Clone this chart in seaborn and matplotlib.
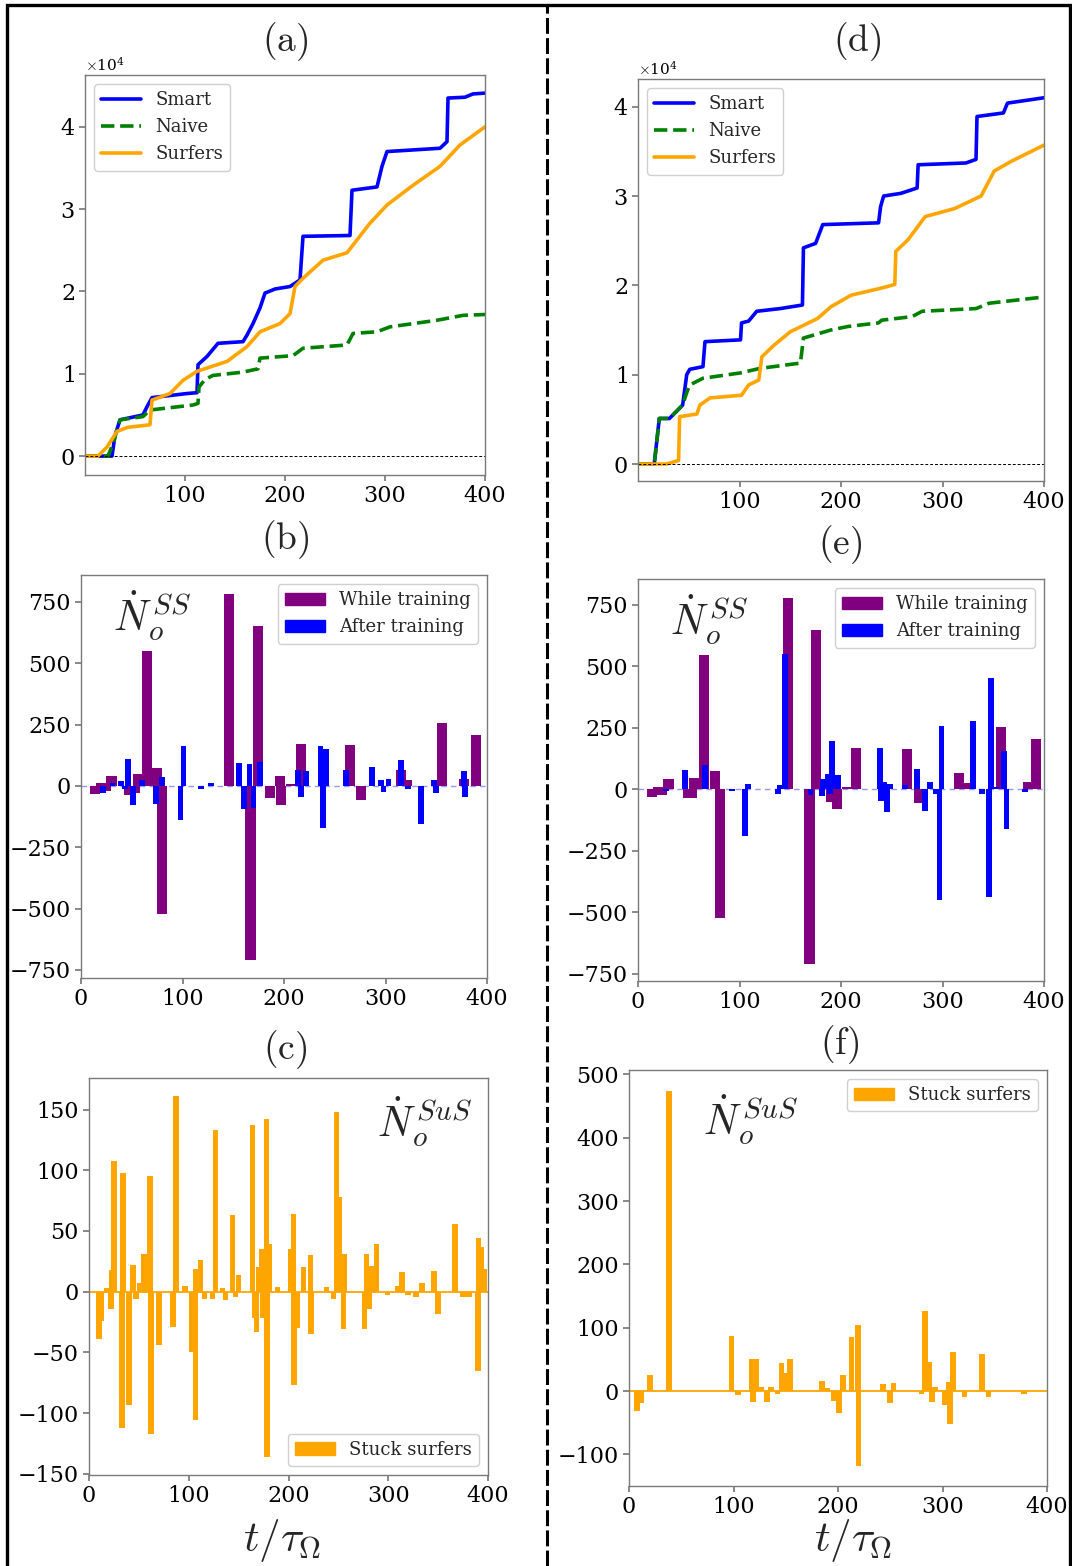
import numpy as np
import pandas as pd
import matplotlib
matplotlib.use("Agg")
import matplotlib.pyplot as plt
import seaborn as sns
from matplotlib.patches import Rectangle, Patch
from matplotlib.lines import Line2D

# ---------------- cumulative counts (units of 1e4) ----------------
# left column, panel (a)
a_smart_t = [0, 27, 30, 35, 58, 62, 67, 102, 112, 113, 122, 133, 158, 162, 168, 175, 180, 190,
             205, 215, 218, 265, 267, 292, 297, 302, 355, 362, 363, 380, 388, 400]
a_smart_v = [0, 0, 0.25, 0.44, 0.50, 0.60, 0.71, 0.76, 0.77, 1.11, 1.21, 1.37, 1.39, 1.47, 1.61,
             1.80, 1.98, 2.03, 2.06, 2.14, 2.67, 2.68, 3.23, 3.27, 3.52, 3.70, 3.74, 3.82, 4.35,
             4.36, 4.40, 4.41]
a_naive_t = [0, 23, 28, 35, 58, 65, 108, 113, 114, 120, 128, 158, 173, 175, 208, 218, 262, 268,
             292, 305, 352, 378, 400]
a_naive_v = [0, 0, 0.15, 0.44, 0.48, 0.56, 0.62, 0.64, 0.84, 0.93, 0.98, 1.02, 1.06, 1.19, 1.22,
             1.31, 1.35, 1.49, 1.51, 1.57, 1.65, 1.71, 1.72]
a_surf_t = [0, 13, 22, 32, 43, 65, 67, 85, 98, 112, 142, 162, 175, 195, 205, 210, 218, 238, 262,
            285, 302, 328, 355, 375, 400]
a_surf_v = [0, 0, 0.11, 0.30, 0.35, 0.38, 0.68, 0.76, 0.92, 1.03, 1.15, 1.33, 1.51, 1.61, 1.73,
            2.06, 2.16, 2.38, 2.47, 2.83, 3.05, 3.29, 3.52, 3.78, 4.00]

# right column, panel (d)
d_smart_t = [0, 16, 21, 31, 44, 48, 51, 64, 66, 101, 102, 109, 117, 140, 162, 163, 175, 182, 237,
             239, 242, 259, 275, 276, 323, 333, 334, 360, 364, 400]
d_smart_v = [0, 0, 0.51, 0.51, 0.66, 1.00, 1.06, 1.09, 1.37, 1.39, 1.58, 1.60, 1.71, 1.74, 1.78,
             2.42, 2.47, 2.68, 2.70, 2.88, 3.00, 3.03, 3.09, 3.35, 3.37, 3.41, 3.89, 3.93, 4.04,
             4.10]
d_naive_t = [0, 16, 21, 31, 44, 48, 51, 64, 101, 120, 160, 163, 190, 207, 237, 240, 270, 280,
             333, 346, 400]
d_naive_v = [0, 0, 0.51, 0.51, 0.66, 0.80, 0.885, 0.96, 1.02, 1.07, 1.13, 1.41, 1.50, 1.54, 1.58,
             1.61, 1.65, 1.71, 1.74, 1.80, 1.87]
d_surf_t = [0, 28, 40, 41, 58, 61, 71, 102, 109, 119, 122, 134, 150, 177, 190, 210, 240, 253,
            254, 266, 283, 312, 338, 351, 368, 400]
d_surf_v = [0, 0, 0.04, 0.53, 0.56, 0.66, 0.74, 0.77, 0.885, 0.94, 1.20, 1.33, 1.48, 1.63, 1.76,
            1.89, 1.97, 2.01, 2.38, 2.51, 2.77, 2.86, 3.00, 3.28, 3.39, 3.57]

# ---------------- smart-smart rates ----------------
b_while_t = [14, 20, 25, 30, 47, 53, 56, 65, 75, 80, 146, 167, 174, 186, 196, 197, 207, 217, 265,
             276, 315, 321, 356, 377, 389]
b_while_v = [-34, 12, -22, 41, -38, -30, 50, 549, 75, -523, 782, -711, 651, -50, 41, -78, 7, 170,
             166, -58, 67, 26, 257, 27, 207]
b_after_t = [22, 31, 39, 43, 46, 51, 60, 74, 80, 98, 101, 118, 128, 156, 161, 166, 170, 176, 214,
             217, 222, 236, 238, 241, 261, 287, 296, 298, 303, 315, 322, 335, 348, 350, 377, 378]
b_after_v = [-29, 14, 19, -11, 111, -79, 26, -72, 37, -137, 164, -14, 14, 95, -92, 91, -88, 99,
             64, -45, 61, 162, -170, 152, 67, 77, 23, -24, 30, 105, -11, -156, 26, -27, 61, -45]

e_while_t = [14, 20, 24, 30, 49, 53, 55, 65, 76, 81, 148, 169, 175, 190, 196, 206, 215, 265, 277,
             316, 322, 358, 384, 392]
e_while_v = [-34, 10, -24, 41, -38, -35, 47, 545, 73, -523, 778, -709, 646, -51, -79, 7, 168, 163,
             -58, 65, 23, 253, 27, 203]
e_after_t = [28, 46, 66, 93, 105, 108, 138, 140, 145, 170, 181, 182, 187, 189, 191, 197, 238, 239,
             242, 245, 248, 263, 275, 283, 288, 294, 297, 299, 330, 339, 346, 348, 353, 361, 363,
             381]
e_after_v = [-8, 77, 98, -8, -191, 20, -18, 16, 549, -24, -28, 43, 60, -18, 196, 56, 168, -47, 30,
             -92, 19, 16, 80, -88, 30, -18, -449, 256, 276, -20, -438, 453, 10, 154, -164, -13]

# ---------------- stuck surfer rates ----------------
c_stuck_t = [10, 12, 22, 22.5, 25, 33, 34, 40, 44, 55, 61, 62, 70, 84, 87, 103, 107, 107.5, 112,
             127, 144, 150, 164, 166, 168, 170, 173, 174, 178, 178.5, 181, 202, 205, 205.5, 209,
             215, 222, 222.5, 248, 251, 255, 255.5, 276, 278, 281, 283, 288, 314, 346, 350, 367,
             390, 390.5, 393, 396,
             18, 47, 51, 96, 116, 124, 134, 137, 147, 189, 238, 245, 299, 310, 320, 328, 334, 375, 381]
c_stuck_v = [-39, -24, -14, 18, 108, -112, 98, -93, 22, 31, 95, -117, -44, -29, 161, -50, -106, 19,
             26, 133, 63, 14, 137, -22, -33, 20, 35, -22, 142, -136, 39, 35, 64, -77, -30, 20, 30,
             -35, 148, 78, -31, 31, -31, 31, -14, 21, 39, 16, 17, -18, 56, -65, 44, 37, 19,
             3, -6, 7, 5, -6, -6, 3, -7, -4, 4, 4, -6, -3, 5, -3, -4, 7, -4, -4]

f_stuck_t = [8, 12, 20, 38, 98, 104, 118, 118.5, 122, 126, 132, 136, 142, 146, 149, 154, 185, 190,
             196, 201, 205, 213, 219, 219.5, 243, 250, 253, 280, 283, 287, 290, 293, 302, 306, 307,
             310, 321, 338, 344, 378]
f_stuck_v = [-31, -19, 25, 474, 87, -6, 50, -17, 50, 7, -17, 7, -4, 45, 29, 50, 16, 4, -15, -35,
             25, 86, 104, -119, 11, -19, 12, -4, 126, 46, -17, 7, -22, 15, -52, 62, -10, 58, -9,
             -5]

line_labels = ["Smart", "Naive", "Surfers"]
bar_labels = ["While training", "After training"]
stuck_label = "Stuck surfers"
panel_titles = ["(a)", "(b)", "(c)", "(d)", "(e)", "(f)"]

# ---------------- style ----------------
sns.set_theme(style="ticks")
plt.rcParams.update({
    "font.family": ["DejaVu Serif"],
    "mathtext.fontset": "cm",
    "axes.edgecolor": "#7a7a7a",
    "axes.linewidth": 1.0,
    "xtick.color": "#7a7a7a",
    "ytick.color": "#7a7a7a",
    "xtick.labelcolor": "black",
    "ytick.labelcolor": "black",
    "xtick.labelsize": 16,
    "ytick.labelsize": 16,
    "xtick.major.size": 4,
    "ytick.major.size": 4,
    "legend.fontsize": 13,
    "legend.edgecolor": "#d0d0d0",
})

W, H = 1072, 1566
fig = plt.figure(figsize=(W / 100, H / 100), dpi=100)


def add_ax(left, top, right, bottom):
    return fig.add_axes([left / W, 1 - bottom / H, (right - left) / W, (bottom - top) / H])


ax_a = add_ax(85, 75, 485, 475)
ax_d = add_ax(638, 79, 1044, 481)
ax_b = add_ax(81, 575, 487, 978)
ax_e = add_ax(638, 579, 1044, 981)
ax_c = add_ax(89, 1078, 488, 1475)
ax_f = add_ax(629, 1070, 1047, 1486)


def cumulative_panel(ax, series, ylim):
    colors = ["blue", "green", "orange"]
    styles = ["-", "--", "-"]
    for (t, v), lab, col, ls in zip(series, line_labels, colors, styles):
        df = pd.DataFrame({"t": t, "n": np.array(v) * 1e4})
        sns.lineplot(data=df, x="t", y="n", ax=ax, sort=False, estimator=None,
                     color=col, lw=2.6, ls=ls, label=lab)
    ax.axhline(0, color="black", lw=0.7, ls=(0, (3, 2)))
    ax.set_xlim(0, 400)
    ax.set_ylim(*ylim)
    ax.set_xticks([100, 200, 300, 400])
    ax.set_yticks([0, 1e4, 2e4, 3e4, 4e4])
    ax.ticklabel_format(axis="y", style="sci", scilimits=(0, 0), useMathText=True)
    ax.yaxis.get_offset_text().set_fontsize(11)
    ax.set_xlabel("")
    ax.set_ylabel("")
    ax.legend(loc="upper left", fancybox=True, framealpha=1, handlelength=2.2)


cumulative_panel(ax_a, [(a_smart_t, a_smart_v), (a_naive_t, a_naive_v), (a_surf_t, a_surf_v)],
                 (-2300, 46300))
cumulative_panel(ax_d, [(d_smart_t, d_smart_v), (d_naive_t, d_naive_v), (d_surf_t, d_surf_v)],
                 (-1900, 43100))


def smart_rate_panel(ax, wt, wv, at, av, ylim):
    ax.axhline(0, color="#6a6aff", lw=1.0, ls=(0, (4, 3)), alpha=0.7, zorder=1)
    ax.bar(wt, wv, width=10, color="purple", linewidth=0, zorder=2)
    ax.bar(at, av, width=5.8, color="blue", linewidth=0, zorder=3)
    ax.set_xlim(0, 400)
    ax.set_ylim(*ylim)
    ax.set_xticks([0, 100, 200, 300, 400])
    ax.set_yticks([-750, -500, -250, 0, 250, 500, 750])
    ax.set_yticklabels(["\u2212750", "\u2212500", "\u2212250", "0", "250", "500", "750"])
    handles = [Patch(color="purple"), Patch(color="blue")]
    ax.legend(handles, bar_labels, loc="upper right", fancybox=True, framealpha=1,
              handlelength=2.2)
    ax.text(0.08, 0.9, r"$\dot{N}_o^{\,SS}$", transform=ax.transAxes, fontsize=30,
            ha="left", va="center")


smart_rate_panel(ax_b, b_while_t, b_while_v, b_after_t, b_after_v, (-783, 860))
smart_rate_panel(ax_e, e_while_t, e_while_v, e_after_t, e_after_v, (-780, 854))


def stuck_panel(ax, t, v, ylim, yticks, legend_loc, label_xy):
    ax.axhline(0, color="orange", lw=1.3, zorder=1)
    ax.bar(t, v, width=5.5, color="orange", linewidth=0, zorder=2)
    ax.set_xlim(0, 400)
    ax.set_ylim(*ylim)
    ax.set_xticks([0, 100, 200, 300, 400])
    ax.set_yticks(yticks)
    ax.set_yticklabels([("\u2212" + str(-y)) if y < 0 else str(y) for y in yticks])
    ax.legend([Patch(color="orange")], [stuck_label], loc=legend_loc, fancybox=True,
              framealpha=1, handlelength=2.2)
    ax.text(label_xy[0], label_xy[1], r"$\dot{N}_o^{\,SuS}$", transform=ax.transAxes,
            fontsize=30, ha="center", va="center")


stuck_panel(ax_c, c_stuck_t, c_stuck_v, (-151, 176), [-150, -100, -50, 0, 50, 100, 150],
            "lower right", (0.84, 0.89))
stuck_panel(ax_f, f_stuck_t, f_stuck_v, (-150, 507), [-100, 0, 100, 200, 300, 400, 500],
            "upper right", (0.29, 0.88))

# ---------------- panel titles and shared labels ----------------
title_pos = [(285, 42), (285, 540), (285, 1050), (857, 42), (840, 545), (840, 1045)]
for txt, (x, y) in zip(panel_titles, title_pos):
    fig.text(x / W, 1 - y / H, r"$\mathrm{" + txt + "}$", fontsize=27, ha="center", va="center")

for x in (282, 853):
    fig.text(x / W, 1 - 1540 / H, r"$t/\tau_\Omega$", fontsize=31, ha="center", va="center")

# frame round the figure and the column divider
fig.add_artist(Rectangle((7 / W, -0.01), (1070 - 7) / W, 1 - 5 / H + 0.01,
                         transform=fig.transFigure, fill=False, lw=2.4, ec="black"))
fig.add_artist(Line2D([547 / W, 547 / W], [0, 1 - 5 / H], transform=fig.transFigure,
                      color="black", lw=2.2, ls=(0, (5.2, 1.4))))

fig.savefig("out.png", dpi=100)
